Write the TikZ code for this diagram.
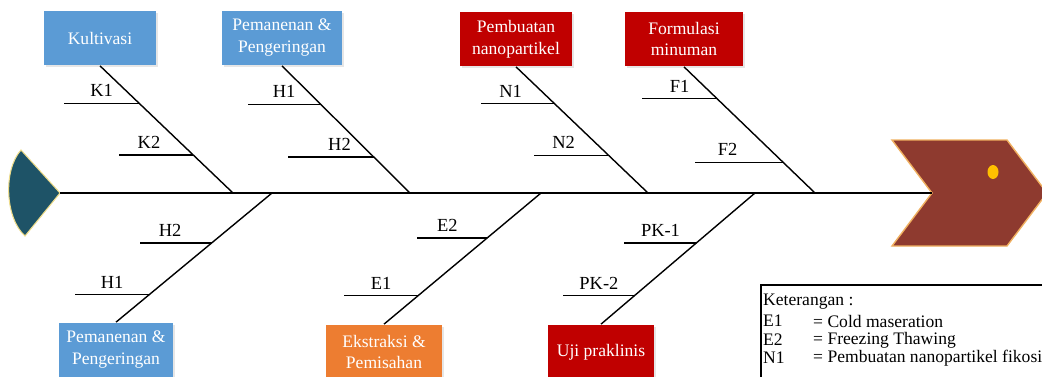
\documentclass[tikz,border=0pt]{standalone}
\usepackage{fontspec}
\setmainfont{Liberation Serif}
\usetikzlibrary{calc,shadows}
\definecolor{boxblue}{HTML}{5B9BD5}
\definecolor{boxred}{HTML}{C00000}
\definecolor{boxorange}{HTML}{ED7D31}
\definecolor{headbrown}{HTML}{8E3A2F}
\definecolor{headedge}{HTML}{F0B060}
\definecolor{tailteal}{HTML}{1E5367}
\definecolor{tailedge}{HTML}{EEDC8A}
\definecolor{dotgold}{HTML}{FFC000}
\begin{document}
\begin{tikzpicture}[x=0.02cm, y=-0.02cm,
    cause/.style = {text=white, align=center, minimum width=#1, minimum height=1.1cm, inner sep=1pt,
                    font=\fontsize{10}{12.5}\selectfont,
                    drop shadow={opacity=0.2, shadow xshift=0.04cm, shadow yshift=-0.04cm}},
    bone/.style = {line width=0.8pt},
    lbl/.style = {font=\fontsize{10.5}{12}\selectfont},
    lgd/.style = {anchor=west, font=\fontsize{10}{12}\selectfont}]
\useasboundingbox (0,0) rectangle (1042,376);
\clip (0,0) rectangle (1042,376);

\node[cause=2.26cm, fill=boxblue] (kul) at (100,38) {Kultivasi};
\node[cause=2.4cm, fill=boxblue] (panen1) at (282,38) {Pemanenan \&\\Pengeringan};
\node[cause=2.24cm, fill=boxred] (nano) at (516,39) {Pembuatan\\nanopartikel};
\node[cause=2.36cm, fill=boxred] (form) at (684,39) {Formulasi\\minuman};
\node[cause=2.28cm, fill=boxblue] (panen2) at (116,350) {Pemanenan \&\\Pengeringan};
\node[cause=2.34cm, fill=boxorange] (ekstr) at (384,352) {Ekstraksi \&\\Pemisahan};
\node[cause=2.14cm, fill=boxred] (uji) at (601,352) {Uji praklinis};

\filldraw[fill=tailteal, draw=tailedge, line width=0.6pt] (60,193) -- (21,150) .. controls (3,170) and (5,218) .. (25,236) -- cycle;
\filldraw[fill=headbrown, draw=headedge, line width=0.8pt] (932,193) -- (892,140) -- (1007,140) -- (1047,193) -- (1007,246) -- (892,246) -- cycle;
\fill[dotgold] (993,172) ellipse [x radius=0.11cm, y radius=0.14cm];

\coordinate (tail) at (60,193);
\coordinate (head) at (932,193);
\coordinate (s1) at (233,193);
\coordinate (s2) at (410,193);
\coordinate (s3) at (648,193);
\coordinate (s4) at (815,193);
\coordinate (s5) at (272,193);
\coordinate (s6) at (541,193);
\coordinate (s7) at (755,193);
\draw[bone] (tail) -- (head);

\draw[bone] (kul.south) -- (s1);
\draw[bone] (panen1.south) -- (s2);
\draw[bone] (nano.south) -- (s3);
\draw[bone] (form.south) -- (s4);
\draw[bone] (s5) -- (panen2.north);
\draw[bone] (s6) -- (ekstr.north);
\draw[bone] (s7) -- (uji.north);

\coordinate (k1) at ($(kul.south)!0.294!(s1)$);
\coordinate (k2) at ($(kul.south)!0.702!(s1)$);
\coordinate (h1) at ($(panen1.south)!0.302!(s2)$);
\coordinate (h2) at ($(panen1.south)!0.718!(s2)$);
\coordinate (n1) at ($(nano.south)!0.291!(s3)$);
\coordinate (n2) at ($(nano.south)!0.701!(s3)$);
\coordinate (f1) at ($(form.south)!0.252!(s4)$);
\coordinate (f2) at ($(form.south)!0.756!(s4)$);
\coordinate (hb2) at ($(s5)!0.386!(panen2.north)$);
\coordinate (hb1) at ($(s5)!0.788!(panen2.north)$);
\coordinate (e2) at ($(s6)!0.342!(ekstr.north)$);
\coordinate (e1) at ($(s6)!0.783!(ekstr.north)$);
\coordinate (pk1) at ($(s7)!0.380!(uji.north)$);
\coordinate (pk2) at ($(s7)!0.783!(uji.north)$);

\draw[bone] (k1) -- ++(-75,0) node[lbl, midway, above] (lk1) {K1};
\draw[bone] (k2) -- ++(-74,0) node[lbl, pos=0.6, above] (lk2) {K2};
\draw[bone] (h1) -- ++(-73,0) node[lbl, midway, above] (lh1) {H1};
\draw[bone] (h2) -- ++(-86,0) node[lbl, pos=0.4, above] (lh2) {H2};
\draw[bone] (n1) -- ++(-73,0) node[lbl, pos=0.6, above] (ln1) {N1};
\draw[bone] (n2) -- ++(-75,0) node[lbl, pos=0.6, above] (ln2) {N2};
\draw[bone] (f1) -- ++(-75,0) node[lbl, midway, above] (lf1) {F1};
\draw[bone] (f2) -- ++(-88,0) node[lbl, pos=0.63, above] (lf2) {F2};
\draw[bone] (hb2) -- ++(-72,0) node[lbl, pos=0.58, above] (lhb2) {H2};
\draw[bone] (hb1) -- ++(-74,0) node[lbl, midway, above] (lhb1) {H1};
\draw[bone] (e2) -- ++(-70,0) node[lbl, pos=0.57, above] (le2) {E2};
\draw[bone] (e1) -- ++(-74,0) node[lbl, midway, above] (le1) {E1};
\draw[bone] (pk1) -- ++(-72,0) node[lbl, midway, above] (lpk1) {PK-1};
\draw[bone] (pk2) -- ++(-71,0) node[lbl, midway, above] (lpk2) {PK-2};

\draw[line width=0.6pt] (761,285) rectangle (1060,395);
\node[lgd] (ket) at (757,302) {Keterangan :};
\node[lgd] (ke1) at (757,321) {E1};
\node[lgd] (ve1) at (807,321) {= Cold maseration};
\node[lgd] (ke2) at (757,340) {E2};
\node[lgd] (ve2) at (807,340) {= Freezing Thawing};
\node[lgd] (kn1) at (757,358) {N1};
\node[lgd] (vn1) at (807,358) {= Pembuatan nanopartikel fikosi};
\end{tikzpicture}
\end{document}
